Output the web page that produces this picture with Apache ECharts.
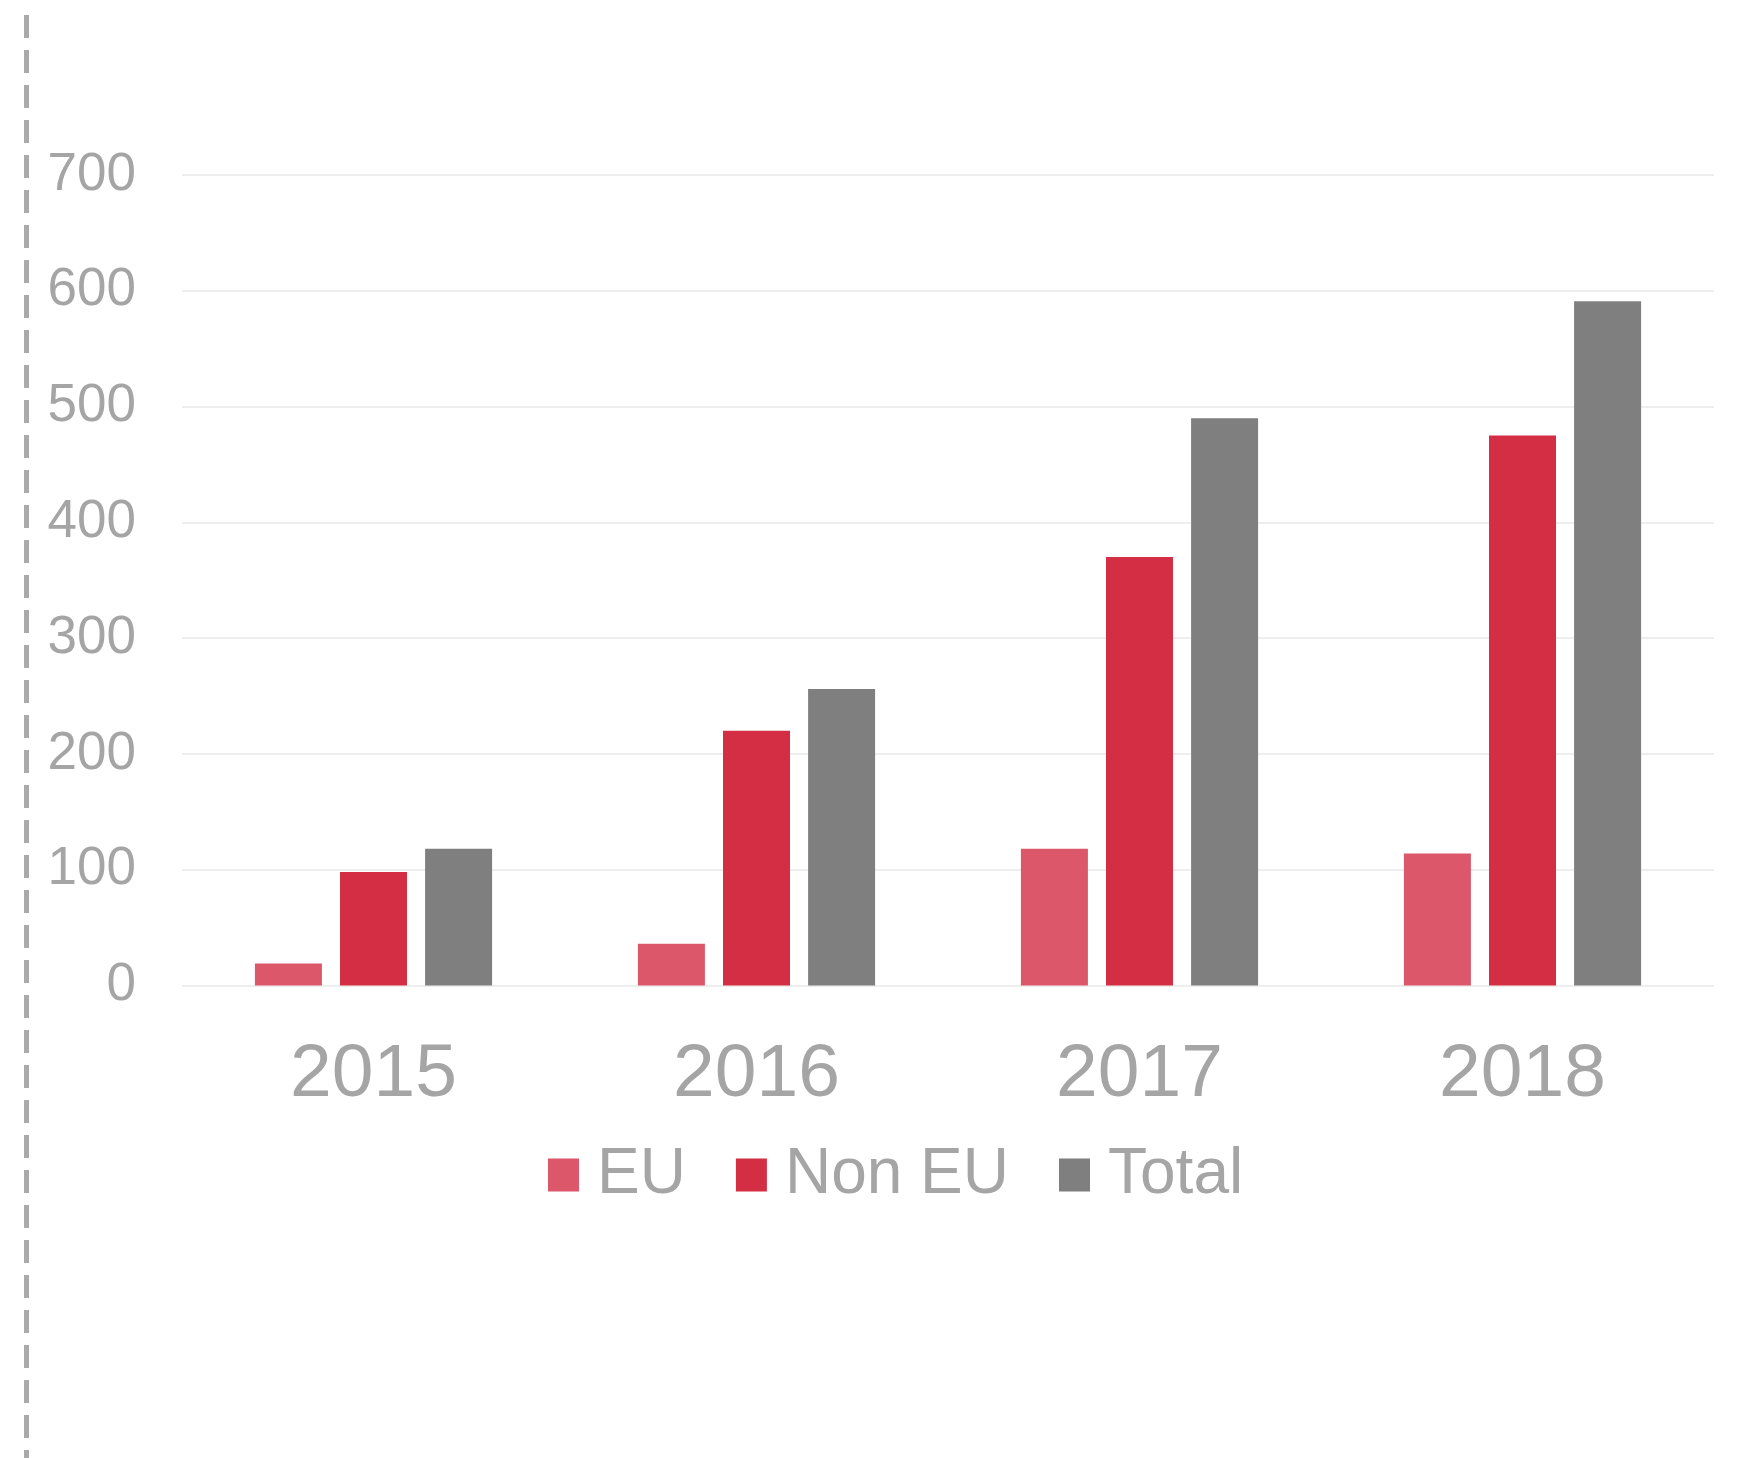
<!DOCTYPE html>
<html lang="en">

<head>
  <meta charset="UTF-8">
  <title>EU / Non EU / Total</title>
  <style>
    html, body { margin: 0; padding: 0; background: #fff; }
    #main { width: 1740px; height: 1458px; }
  </style>
</head>

<body>
  <div id="main"></div>
</body>
<script src="https://cdn.jsdelivr.net/npm/echarts@6/dist/echarts.min.js"></script>
<script>
  // data
  var years = ['2015', '2016', '2017', '2018'];
  var euData = [19, 36, 118, 114];
  var nonEuData = [98, 220, 370, 475];
  var totalData = [118, 256, 490, 591];

  var textColor = '#a5a5a5';
  var chart = echarts.init(document.getElementById('main'));

  var option = {
    animation: false,
    textStyle: { fontFamily: 'Liberation Sans, Arial, sans-serif' },
    grid: {
      left: 182,
      right: 26,
      top: 175,
      bottom: 472.5,
      containLabel: false
    },
    legend: {
      left: 548,
      top: 1143,
      padding: 0,
      itemWidth: 31,
      itemHeight: 33,
      itemGap: 50,
      icon: 'rect',
      textStyle: { color: textColor, fontSize: 64, padding: [0, 0, 0, 13] },
      data: ['EU', 'Non EU', 'Total']
    },
    xAxis: {
      type: 'category',
      data: years,
      axisLine: { show: false },
      axisTick: { show: false },
      axisLabel: { color: textColor, fontSize: 75, margin: 52 }
    },
    yAxis: {
      type: 'value',
      min: 0,
      max: 700,
      interval: 100,
      axisLine: { show: false },
      axisTick: { show: false },
      axisLabel: { color: textColor, fontSize: 53, margin: 46, padding: [5, 0, 0, 0] },
      splitLine: { lineStyle: { color: '#e8e8e8', width: 1.5 } }
    },
    series: [
      {
        name: 'EU',
        type: 'bar',
        barWidth: 67,
        barGap: '27%',
        itemStyle: { color: '#dc576a' },
        data: euData
      },
      {
        name: 'Non EU',
        type: 'bar',
        barWidth: 67,
        barGap: '27%',
        itemStyle: { color: '#d42e45' },
        data: nonEuData
      },
      {
        name: 'Total',
        type: 'bar',
        barWidth: 67,
        barGap: '27%',
        itemStyle: { color: '#7f7f7f' },
        data: totalData
      }
    ],
    graphic: [
      {
        // dashed divider on the left edge
        type: 'line',
        shape: { x1: 26.5, y1: 15, x2: 26.5, y2: 1458 },
        style: { stroke: '#aaaaaa', lineWidth: 5, lineDash: [23, 12] }
      }
    ]
  };

  chart.setOption(option);
</script>

</html>
